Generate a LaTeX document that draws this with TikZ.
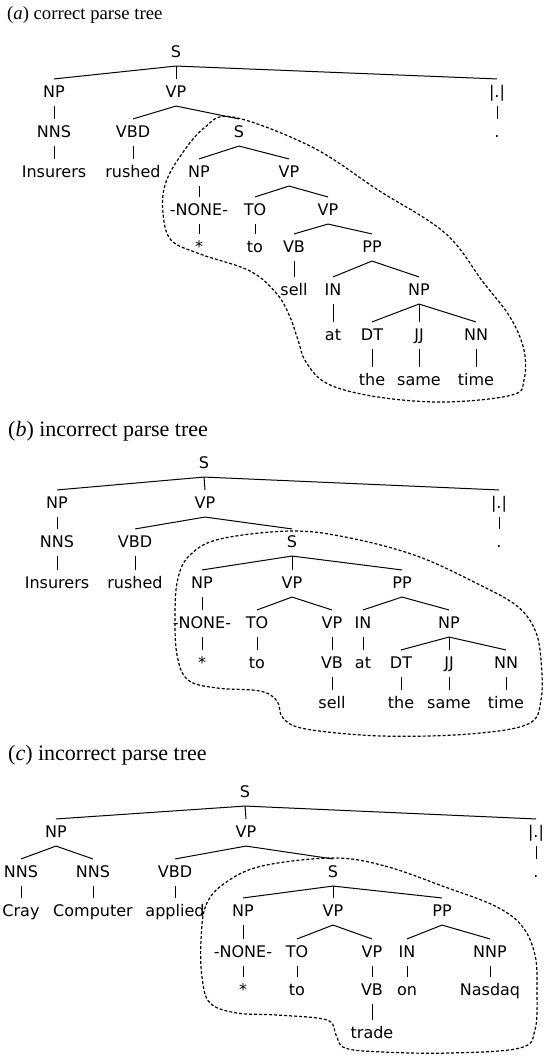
\documentclass[tikz,border=0pt]{standalone}
\usepackage{fontspec}
\newfontfamily\lblfont{DejaVu Sans}
\newfontfamily\capfont{Liberation Serif}
\begin{document}
\begin{tikzpicture}[x=1pt,y=-1pt,
  lbl/.style={font=\lblfont\fontsize{16}{19}\selectfont, inner sep=0pt, text height=11.7pt, text depth=0pt},
  captxt/.style={font=\capfont\fontsize{22}{24}\selectfont, anchor=base west, inner sep=0pt},
  captxtsmall/.style={font=\capfont\fontsize{18.7}{22}\selectfont, anchor=base west, inner sep=0pt},
  edge/.style={line width=1pt, black},
  blob/.style={line width=1.2pt, dash pattern=on 3pt off 2pt, black}]
\useasboundingbox (0,0) rectangle (545,1057);
\newcommand\ed[2]{\draw[edge] ([yshift=-8pt]#1.south) -- ([yshift=7pt]#2.north);}
% ---------------- (a)
\node[captxtsmall] (capa) at (7,20) {(\textit{a}) correct parse tree};
\node[lbl] (aS) at (176,52) {S};
\node[lbl] (aNP) at (54,92) {NP};
\node[lbl] (aVP) at (176,92) {VP};
\node[lbl] (aPU) at (497,92) {|.|};
\node[lbl] (aNNS) at (54,132) {NNS};
\node[lbl] (aVBD) at (133,132) {VBD};
\node[lbl] (aS2) at (239,132) {S};
\node[lbl] (aPd) at (497,132) {.};
\node[lbl] (aIns) at (54,172) {Insurers};
\node[lbl] (arus) at (133,172) {rushed};
\node[lbl] (aNP2) at (199,172) {NP};
\node[lbl] (aVP2) at (289,172) {VP};
\node[lbl] (aNONE) at (199,210) {-NONE-};
\node[lbl] (aTO) at (255,210) {TO};
\node[lbl] (aVP3) at (328,210) {VP};
\node[lbl] (aStar) at (199,247) {*};
\node[lbl] (ato) at (255,247) {to};
\node[lbl] (aVB) at (294,247) {VB};
\node[lbl] (aPP) at (372,247) {PP};
\node[lbl] (asell) at (294,290) {sell};
\node[lbl] (aIN) at (333,290) {IN};
\node[lbl] (aNP3) at (419,290) {NP};
\node[lbl] (aat) at (333,335) {at};
\node[lbl] (aDT) at (372,335) {DT};
\node[lbl] (aJJ) at (419,335) {JJ};
\node[lbl] (aNN) at (476,335) {NN};
\node[lbl] (athe) at (372,380) {the};
\node[lbl] (asame) at (419,380) {same};
\node[lbl] (atime) at (476,380) {time};
\ed{aS}{aNP}\ed{aS}{aVP}\ed{aS}{aPU}
\ed{aNP}{aNNS}\ed{aVP}{aVBD}\ed{aVP}{aS2}\ed{aPU}{aPd}
\ed{aNNS}{aIns}\ed{aVBD}{arus}\ed{aS2}{aNP2}\ed{aS2}{aVP2}
\ed{aNP2}{aNONE}\ed{aVP2}{aTO}\ed{aVP2}{aVP3}
\ed{aNONE}{aStar}\ed{aTO}{ato}\ed{aVP3}{aVB}\ed{aVP3}{aPP}
\ed{aVB}{asell}\ed{aPP}{aIN}\ed{aPP}{aNP3}
\ed{aIN}{aat}\ed{aNP3}{aDT}\ed{aNP3}{aJJ}\ed{aNP3}{aNN}
\ed{aDT}{athe}\ed{aJJ}{asame}\ed{aNN}{atime}
\draw[blob] plot[smooth cycle, tension=0.6] coordinates {
 (233,117) (312,147) (378,190) (445,233) (483,282) (510,317) (524,350) (524,380) (512,395)
 (445,402) (378,397) (328,384) (306,362) (298,340) (290,317) (277,294) (250,271) (200,254)
 (171,240) (163,213) (165,185) (179,158) (204,128)};
% ---------------- (b)
\node[captxt] (capb) at (8,436) {(\textit{b}) incorrect parse tree};
\node[lbl] (bS) at (204,463) {S};
\node[lbl] (bNP) at (57,503) {NP};
\node[lbl] (bVP) at (205,503) {VP};
\node[lbl] (bPU) at (499,503) {|.|};
\node[lbl] (bNNS) at (57,542) {NNS};
\node[lbl] (bVBD) at (135,542) {VBD};
\node[lbl] (bS2) at (292,542) {S};
\node[lbl] (bPd) at (499,542) {.};
\node[lbl] (bIns) at (57,583) {Insurers};
\node[lbl] (brus) at (135,583) {rushed};
\node[lbl] (bNP2) at (202,583) {NP};
\node[lbl] (bVP2) at (292,583) {VP};
\node[lbl] (bPP) at (402,583) {PP};
\node[lbl] (bNONE) at (202,623) {-NONE-};
\node[lbl] (bTO) at (257,623) {TO};
\node[lbl] (bVP3) at (332,623) {VP};
\node[lbl] (bIN) at (363,623) {IN};
\node[lbl] (bNP3) at (449,623) {NP};
\node[lbl] (bStar) at (202,663) {*};
\node[lbl] (bto) at (257,663) {to};
\node[lbl] (bVB) at (332,663) {VB};
\node[lbl] (bat) at (363,663) {at};
\node[lbl] (bDT) at (401,663) {DT};
\node[lbl] (bJJ) at (449,663) {JJ};
\node[lbl] (bNN) at (506,663) {NN};
\node[lbl] (bsell) at (332,703) {sell};
\node[lbl] (bthe) at (401,703) {the};
\node[lbl] (bsame) at (449,703) {same};
\node[lbl] (btime) at (506,703) {time};
\ed{bS}{bNP}\ed{bS}{bVP}\ed{bS}{bPU}
\ed{bNP}{bNNS}\ed{bVP}{bVBD}\ed{bVP}{bS2}\ed{bPU}{bPd}
\ed{bNNS}{bIns}\ed{bVBD}{brus}\ed{bS2}{bNP2}\ed{bS2}{bVP2}\ed{bS2}{bPP}
\ed{bNP2}{bNONE}\ed{bVP2}{bTO}\ed{bVP2}{bVP3}\ed{bPP}{bIN}\ed{bPP}{bNP3}
\ed{bNONE}{bStar}\ed{bTO}{bto}\ed{bVP3}{bVB}\ed{bIN}{bat}
\ed{bNP3}{bDT}\ed{bNP3}{bJJ}\ed{bNP3}{bNN}
\ed{bVB}{bsell}\ed{bDT}{bthe}\ed{bJJ}{bsame}\ed{bNN}{btime}
\draw[blob] plot[smooth cycle, tension=0.6] coordinates {
 (292,531) (350,538) (417,556) (478,584) (517,606) (535,630) (541,660) (541,700) (528,724)
 (469,734) (382,736) (306,729) (283,718) (277,701) (260,691) (217,688) (188,680) (177,655)
 (175,613) (178,578) (190,555) (220,539)};
% ---------------- (c)
\node[captxt] (capc) at (8,760) {(\textit{c}) incorrect parse tree};
\node[lbl] (cS) at (245,792) {S};
\node[lbl] (cNP) at (56,832) {NP};
\node[lbl] (cVP) at (246,832) {VP};
\node[lbl] (cPU) at (536,832) {|.|};
\node[lbl] (cNNSa) at (21,872) {NNS};
\node[lbl] (cNNSb) at (93,872) {NNS};
\node[lbl] (cVBD) at (175,872) {VBD};
\node[lbl] (cS2) at (333,872) {S};
\node[lbl] (cPd) at (536,872) {.};
\node[lbl] (cCray) at (21,911) {Cray};
\node[lbl] (cComp) at (93,911) {Computer};
\node[lbl] (capp) at (175,911) {applied};
\node[lbl] (cNP2) at (243,911) {NP};
\node[lbl] (cVP2) at (333,911) {VP};
\node[lbl] (cPP) at (442,911) {PP};
\node[lbl] (cNONE) at (243,952) {-NONE-};
\node[lbl] (cTO) at (297,952) {TO};
\node[lbl] (cVP3) at (372,952) {VP};
\node[lbl] (cIN) at (407,952) {IN};
\node[lbl] (cNNP) at (490,952) {NNP};
\node[lbl] (cStar) at (243,990) {*};
\node[lbl] (cto) at (297,990) {to};
\node[lbl] (cVB) at (372,990) {VB};
\node[lbl] (con) at (407,990) {on};
\node[lbl] (cNas) at (490,990) {Nasdaq};
\node[lbl] (ctrade) at (372,1033) {trade};
\ed{cS}{cNP}\ed{cS}{cVP}\ed{cS}{cPU}
\ed{cNP}{cNNSa}\ed{cNP}{cNNSb}\ed{cVP}{cVBD}\ed{cVP}{cS2}\ed{cPU}{cPd}
\ed{cNNSa}{cCray}\ed{cNNSb}{cComp}\ed{cVBD}{capp}
\ed{cS2}{cNP2}\ed{cS2}{cVP2}\ed{cS2}{cPP}
\ed{cNP2}{cNONE}\ed{cVP2}{cTO}\ed{cVP2}{cVP3}\ed{cPP}{cIN}\ed{cPP}{cNNP}
\ed{cNONE}{cStar}\ed{cTO}{cto}\ed{cVP3}{cVB}\ed{cIN}{con}\ed{cNNP}{cNas}
\ed{cVB}{ctrade}
\draw[blob] plot[smooth cycle, tension=0.6] coordinates {
 (333,858) (385,866) (445,887) (495,906) (522,926) (535,955) (537,990) (535,1030) (520,1048)
 (450,1053) (383,1052) (345,1048) (336,1035) (327,1020) (277,1015) (237,1013) (210,1003)
 (202,977) (201,940) (206,905) (225,883) (262,866)};
\end{tikzpicture}
\end{document}
